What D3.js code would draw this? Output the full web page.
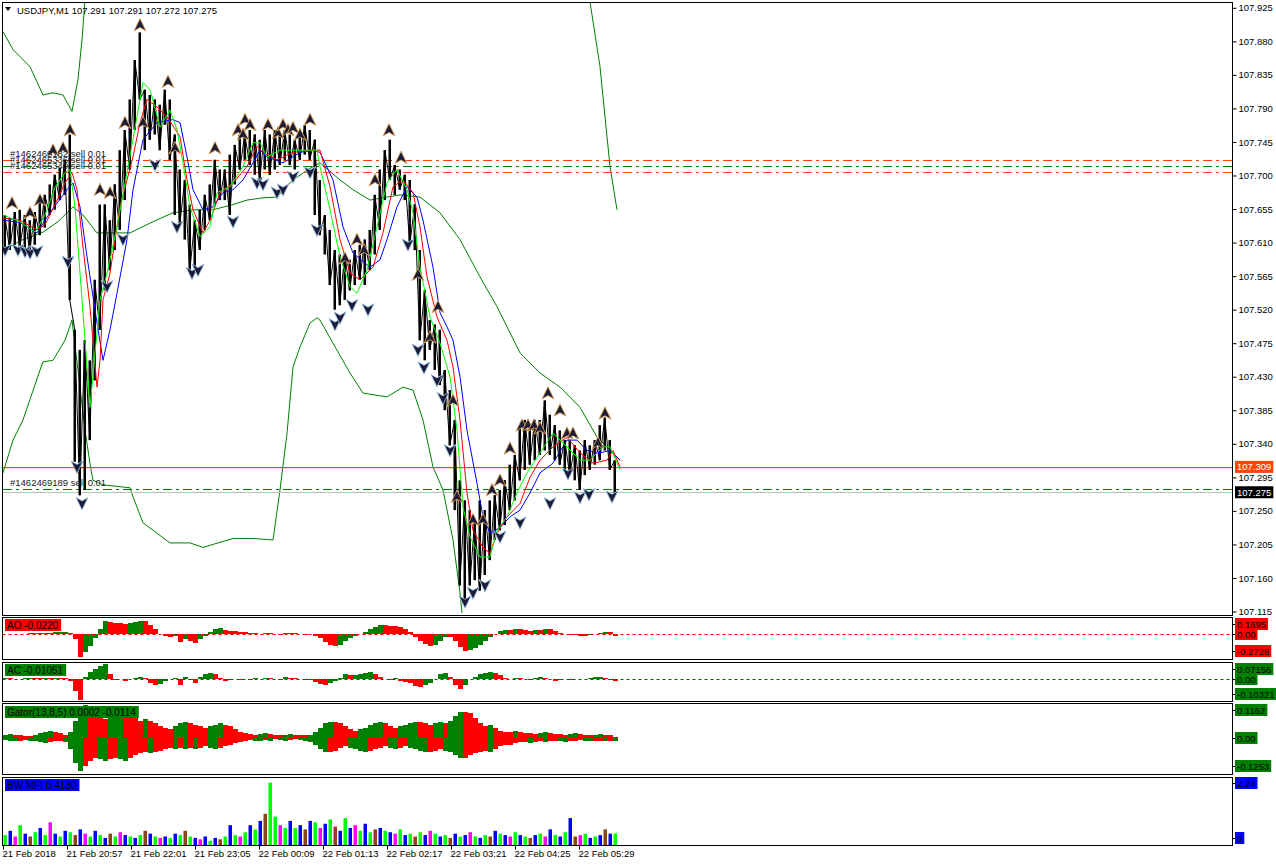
<!DOCTYPE html>
<html><head><meta charset="utf-8">
<script src="https://cdn.jsdelivr.net/npm/d3@7"></script>
<style>
body{margin:0;background:#fff;}
svg{display:block;}
text{font-family:"Liberation Sans",Arial,sans-serif;}
</style>
</head><body>
<svg id="chart" width="1276" height="866"></svg>
<script>
// ---------------- DATA ----------------
const symbolTitle = "USDJPY,M1  107.291 107.291 107.272 107.275";
const bucketMinutes = 5; // each price/indicator bucket spans 5 one-minute bars
const timeTicks = [0, 64, 128, 192, 256, 320, 384, 448, 512, 576];
const timeLabels = ["21 Feb 2018", "21 Feb 20:57", "21 Feb 22:01", "21 Feb 23:05", "22 Feb 00:09",
  "22 Feb 01:13", "22 Feb 02:17", "22 Feb 03:21", "22 Feb 04:25", "22 Feb 05:29"];
const priceTicks = [107.925, 107.880, 107.835, 107.790, 107.745, 107.700, 107.655, 107.610, 107.565,
  107.520, 107.475, 107.430, 107.385, 107.340, 107.295, 107.250, 107.205, 107.160, 107.115];

const priceHigh = [107.647,107.643,107.651,107.654,107.647,107.640,107.651,107.667,107.674,107.688,107.701,107.710,107.721,
 107.755,107.493,107.466,107.479,107.452,107.560,107.661,107.661,107.640,107.688,107.734,107.761,107.802,107.855,107.892,107.815,107.808,107.802,107.795,
 107.815,107.802,107.755,107.708,107.694,107.661,107.640,107.654,107.674,107.688,107.721,107.708,107.708,107.728,107.741,107.755,
 107.755,107.761,107.755,107.748,107.761,107.755,107.761,107.755,107.761,107.755,107.748,107.755,107.768,
 107.761,107.748,107.694,107.647,107.627,107.600,107.594,107.594,107.587,107.600,107.607,107.614,107.627,107.674,107.708,107.734,107.748,107.714,107.708,107.701,107.694,
 107.661,107.600,107.546,107.506,107.500,107.493,107.439,107.412,107.372,107.291,107.264,107.251,107.238,107.264,107.251,107.264,107.271,107.278,107.291,107.312,107.325,107.365,107.372,107.365,107.372,107.372,107.398,107.379,107.365,107.358,107.345,107.345,107.338,107.331,107.345,107.338,107.345,107.365,107.375,107.345,107.318];
const priceLow = [107.603,107.600,107.607,107.603,107.600,107.598,107.607,107.620,107.630,107.647,107.654,107.667,107.674,
 107.533,107.316,107.271,107.278,107.345,107.425,107.493,107.546,107.573,107.600,107.627,107.667,107.708,107.761,107.802,107.734,107.748,107.755,107.734,
 107.768,107.721,107.647,107.634,107.614,107.571,107.576,107.600,107.627,107.640,107.661,107.667,107.667,107.647,107.688,107.708,
 107.721,107.714,107.701,107.694,107.708,107.701,107.708,107.714,107.721,107.714,107.708,107.721,107.728,
 107.721,107.647,107.620,107.594,107.553,107.520,107.526,107.533,107.546,107.553,107.560,107.553,107.573,107.594,107.627,107.667,107.694,107.674,107.681,107.667,107.607,
 107.600,107.479,107.452,107.466,107.439,107.419,107.385,107.338,107.251,107.150,107.130,107.150,107.157,107.143,107.164,107.184,107.211,107.224,107.231,107.251,107.264,107.291,107.305,107.312,107.318,107.325,107.331,107.325,107.318,107.312,107.305,107.298,107.291,107.278,107.298,107.305,107.312,107.318,107.331,107.305,107.274];

// Alligator lines [minute, price]
const jawLine = [[0,107.640],[17,107.637],[34,107.623],[47,107.650],[64,107.681],[70,107.690],[77,107.658],[84,107.591],[94,107.502],[100,107.452],[107,107.493],[114,107.542],[124,107.614],[130,107.681],[140,107.748],[154,107.771],[170,107.775],[177,107.771],[184,107.725],[190,107.681],[200,107.654],[210,107.658],[220,107.677],[230,107.681],[240,107.694],[250,107.717],[257,107.734],[264,107.725],[280,107.717],[297,107.731],[310,107.734],[317,107.731],[330,107.694],[340,107.631],[350,107.596],[367,107.577],[377,107.587],[384,107.614],[394,107.658],[404,107.685],[414,107.671],[420,107.640],[430,107.577],[437,107.516],[444,107.497],[450,107.479],[457,107.430],[464,107.358],[474,107.287],[480,107.242],[487,107.220],[497,107.228],[507,107.242],[517,107.251],[527,107.274],[537,107.301],[550,107.314],[564,107.345],[574,107.345],[584,107.331],[597,107.328],[607,107.331],[617,107.318]];
const teethLine = [[0,107.643],[17,107.640],[34,107.627],[42,107.634],[52,107.661],[62,107.690],[69,107.704],[74,107.681],[80,107.604],[87,107.524],[94,107.416],[97,107.452],[100,107.533],[107,107.569],[117,107.658],[130,107.725],[137,107.771],[144,107.802],[154,107.792],[164,107.779],[177,107.752],[184,107.694],[190,107.654],[200,107.623],[207,107.640],[217,107.677],[230,107.690],[244,107.712],[254,107.739],[260,107.731],[274,107.721],[290,107.731],[310,107.734],[317,107.734],[327,107.685],[337,107.614],[347,107.569],[357,107.560],[370,107.577],[380,107.623],[390,107.685],[400,107.694],[410,107.677],[417,107.631],[424,107.564],[434,107.510],[444,107.479],[450,107.443],[457,107.372],[464,107.274],[470,107.224],[480,107.201],[487,107.193],[494,107.220],[504,107.242],[517,107.260],[527,107.295],[537,107.318],[550,107.336],[564,107.349],[577,107.328],[590,107.314],[604,107.318],[610,107.331],[617,107.309]];
const lipsLine = [[0,107.647],[17,107.638],[32,107.624],[42,107.647],[52,107.684],[62,107.704],[67,107.708],[72,107.658],[77,107.569],[87,107.389],[97,107.533],[104,107.569],[114,107.631],[124,107.704],[134,107.779],[140,107.825],[147,107.815],[157,107.765],[167,107.788],[174,107.761],[180,107.717],[187,107.658],[197,107.618],[207,107.631],[214,107.677],[227,107.685],[240,107.712],[250,107.744],[257,107.744],[264,107.725],[277,107.734],[297,107.734],[314,107.734],[317,107.712],[327,107.654],[337,107.591],[347,107.551],[354,107.542],[364,107.573],[374,107.631],[384,107.690],[394,107.708],[404,107.681],[410,107.650],[417,107.577],[427,107.510],[437,107.475],[447,107.430],[454,107.358],[460,107.255],[467,107.215],[477,107.188],[487,107.188],[494,107.224],[504,107.242],[514,107.274],[524,107.301],[537,107.328],[550,107.354],[564,107.336],[577,107.318],[587,107.318],[600,107.336],[607,107.336],[617,107.305]];

// Envelope / band lines [minute, price]; null splits a segment that runs above the chart
const bandUpper = [[0,107.893],[10,107.869],[27,107.846],[40,107.808],[50,107.811],[60,107.808],[69,107.786],[75,107.829],[79,107.882],[82,107.936],[84,107.963],null,
  [586,107.950],[587,107.933],[597,107.846],[607,107.712],[614,107.654]];
const bandMiddle = [[0,107.600],[20,107.614],[40,107.624],[55,107.638],[70,107.658],[80,107.647],[94,107.623],[127,107.623],[150,107.638],[170,107.650],[190,107.654],[210,107.654],[230,107.661],[244,107.667],[260,107.670],[274,107.671],[290,107.694],[305,107.708],[317,107.717],[337,107.694],[350,107.681],[367,107.667],[384,107.671],[397,107.674],[417,107.671],[437,107.650],[457,107.614],[477,107.564],[494,107.524],[517,107.462],[537,107.435],[557,107.416],[577,107.389],[594,107.349],[604,107.336],[617,107.318]];
const bandLower = [[0,107.301],[10,107.345],[20,107.372],[37,107.439],[40,107.450],[50,107.452],[62,107.479],[69,107.506],[75,107.439],[82,107.358],[88,107.305],[90,107.291],[100,107.285],[120,107.282],[127,107.281],[130,107.269],[140,107.234],[150,107.224],[167,107.207],[187,107.207],[200,107.201],[230,107.213],[250,107.213],[270,107.211],[277,107.278],[284,107.354],[290,107.443],[297,107.470],[307,107.502],[314,107.509],[317,107.506],[330,107.475],[347,107.435],[360,107.408],[384,107.403],[400,107.416],[410,107.412],[420,107.372],[430,107.309],[440,107.278],[450,107.211],[457,107.140],[459,107.113]];

// Fractals [minute, price of arrow]
const fractalUp = [[9,107.663],[27,107.650],[37,107.667],[50,107.734],[60,107.737],[67,107.761],[97,107.681],[107,107.677],[122,107.771],[137,107.902],[140,107.771],[165,107.826],[172,107.737],[212,107.737],[235,107.761],[240,107.755],[242,107.775],[247,107.768],[265,107.768],[275,107.757],[280,107.768],[285,107.761],[290,107.764],[297,107.755],[307,107.775],[342,107.589],[354,107.614],[361,107.600],[372,107.694],[386,107.761],[398,107.724],[415,107.567],[427,107.483],[435,107.524],[450,107.398],[454,107.269],[470,107.238],[480,107.238],[489,107.278],[497,107.291],[507,107.334],[519,107.365],[525,107.365],[531,107.365],[537,107.361],[545,107.408],[557,107.385],[564,107.354],[570,107.354],[595,107.341],[602,107.381]];
const fractalDown = [[2,107.600],[15,107.600],[22,107.598],[27,107.596],[34,107.598],[65,107.584],[74,107.309],[79,107.260],[104,107.551],[120,107.614],[152,107.714],[174,107.631],[189,107.569],[195,107.573],[230,107.638],[254,107.690],[260,107.688],[274,107.677],[280,107.681],[290,107.698],[307,107.704],[314,107.627],[332,107.500],[337,107.509],[349,107.526],[365,107.520],[405,107.607],[415,107.466],[421,107.442],[434,107.425],[440,107.401],[447,107.331],[462,107.128],[470,107.140],[482,107.150],[497,107.215],[517,107.234],[547,107.260],[565,107.300],[577,107.268],[586,107.272],[609,107.269]];

// Horizontal price lines
const orderLevelsOrange = [107.721, 107.705];
const orderLevelsGreen = [107.713, 107.280];
const askPrice = 107.309;
const bidPrice = 107.275;
const orderTexts = [["#1462469182 sell 0.01",107.726],["#1462465336 sell 0.01",107.718],["#1462465340 sell 0.01",107.710],["#1462469189 sell 0.01",107.285]];

// Indicators (one value per 5-minute bucket)
const aoValues = [0.002,0.003,0.001,-0.002,0.001,0.004,0.006,0.008,0.010,0.012,0.015,0.018,0.020,
 0.010,-0.060,-0.260,-0.200,-0.130,-0.050,0.050,0.140,0.130,0.120,0.120,0.110,0.120,0.130,0.140,0.140,0.100,0.050,0.000,
 -0.020,-0.030,-0.020,-0.090,-0.060,-0.080,-0.100,-0.060,-0.020,0.020,0.050,0.060,0.040,0.030,0.030,0.020,
 0.020,0.010,0.010,0.000,0.010,0.010,0.000,-0.010,0.010,0.010,0.010,0.000,-0.010,
 -0.005,-0.020,-0.050,-0.090,-0.120,-0.130,-0.120,-0.080,-0.050,-0.020,0.000,0.020,0.050,0.080,0.100,0.100,0.090,0.090,0.070,0.050,0.020,
 -0.030,-0.080,-0.110,-0.130,-0.120,-0.080,-0.040,-0.040,-0.080,-0.150,-0.190,-0.180,-0.160,-0.120,-0.080,-0.040,0.000,0.030,0.040,0.040,0.050,0.050,0.040,0.030,0.040,0.040,0.050,0.050,0.030,0.010,0.000,-0.010,-0.010,-0.020,-0.020,-0.010,0.000,0.010,0.020,0.020,-0.022];
const aoRange = [-0.2728, 0.1695];
const acValues = [0.002,0.001,-0.002,-0.003,0.002,0.004,0.003,0.002,0.003,0.003,0.004,0.003,0.002,
 -0.010,-0.060,-0.100,0.010,0.030,0.045,0.060,0.070,0.020,-0.005,0.000,-0.010,0.000,0.005,0.010,0.005,-0.020,-0.030,-0.025,
 -0.010,0.000,0.005,-0.030,0.010,-0.005,-0.020,0.010,0.020,0.025,0.020,0.005,-0.010,-0.005,0.000,-0.005,
 0.000,-0.005,0.002,-0.004,0.005,0.003,-0.004,-0.006,0.006,0.003,0.002,-0.004,-0.008,
 -0.005,-0.015,-0.025,-0.030,-0.020,-0.010,0.005,0.020,0.015,0.018,0.020,0.025,0.030,0.020,0.010,0.000,-0.005,0.005,-0.010,-0.015,-0.020,
 -0.035,-0.040,-0.030,-0.020,0.000,0.020,0.025,0.010,-0.030,-0.050,-0.030,0.000,0.010,0.020,0.025,0.030,0.025,0.015,0.005,0.000,0.005,0.003,0.000,-0.005,0.004,0.006,0.005,-0.003,-0.010,-0.008,-0.004,-0.005,0.000,-0.004,-0.002,0.003,0.006,0.008,0.004,-0.005,-0.011];
const acRange = [-0.10321, 0.07156];
const gatorUpper = [0.01,0.012,0.01,0.008,0.006,0.006,0.01,0.015,0.02,0.025,0.02,0.015,0.01,
 0.02,0.06,0.10,0.115,0.11,0.08,0.07,0.065,0.075,0.085,0.09,0.085,0.08,0.07,0.06,0.065,0.06,0.05,0.04,
 0.035,0.03,0.04,0.05,0.055,0.05,0.045,0.04,0.035,0.04,0.045,0.05,0.045,0.04,0.03,0.02,
 0.015,0.012,0.01,0.012,0.015,0.012,0.01,0.008,0.01,0.012,0.01,0.008,0.008,
 0.01,0.02,0.035,0.05,0.055,0.055,0.05,0.04,0.03,0.025,0.03,0.035,0.045,0.05,0.055,0.05,0.04,0.035,0.04,0.045,0.05,
 0.055,0.055,0.05,0.045,0.05,0.055,0.05,0.06,0.075,0.09,0.09,0.085,0.07,0.05,0.04,0.045,0.035,0.025,0.02,0.02,0.025,0.02,0.015,0.015,0.012,0.015,0.02,0.015,0.012,0.012,0.01,0.012,0.015,0.012,0.01,0.008,0.01,0.012,0.01,0.008,0.002];
const gatorLower = [-0.008,-0.01,-0.012,-0.01,-0.008,-0.01,-0.012,-0.015,-0.02,-0.015,-0.012,-0.01,-0.015,
 -0.04,-0.09,-0.115,-0.10,-0.08,-0.07,-0.075,-0.08,-0.075,-0.07,-0.075,-0.08,-0.07,-0.06,-0.055,-0.05,-0.055,-0.05,-0.045,
 -0.04,-0.035,-0.04,-0.035,-0.04,-0.035,-0.04,-0.035,-0.03,-0.035,-0.04,-0.035,-0.03,-0.025,-0.02,-0.015,
 -0.01,-0.008,-0.01,-0.012,-0.008,-0.01,-0.006,-0.008,-0.01,-0.008,-0.006,-0.008,-0.01,
 -0.015,-0.025,-0.04,-0.05,-0.05,-0.045,-0.035,-0.03,-0.035,-0.04,-0.045,-0.05,-0.045,-0.04,-0.035,-0.03,-0.035,-0.04,-0.035,-0.03,-0.035,
 -0.04,-0.045,-0.05,-0.05,-0.045,-0.04,-0.045,-0.05,-0.06,-0.07,-0.07,-0.06,-0.055,-0.05,-0.045,-0.05,-0.04,-0.03,-0.025,-0.025,-0.02,-0.015,-0.015,-0.02,-0.015,-0.012,-0.015,-0.012,-0.01,-0.012,-0.015,-0.012,-0.01,-0.008,-0.01,-0.012,-0.01,-0.01,-0.012,-0.011,-0.0114];
const gatorRange = [-0.1253, 0.1162];
const mfiValues = [0.35,0.5,0.3,0.7,0.4,0.3,0.45,0.6,0.35,0.8,0.4,0.3,0.5,
 0.45,0.35,0.55,0.4,0.3,0.5,0.35,0.25,0.4,0.3,0.45,0.35,0.3,0.25,0.35,0.5,0.4,0.3,0.25,
 0.3,0.25,0.4,0.35,0.5,0.3,0.25,0.2,0.3,0.15,0.25,0.2,0.3,0.7,0.35,0.3,
 0.45,0.7,0.55,0.85,1.1,2.2,1.0,0.7,0.6,0.85,0.6,0.7,0.55,
 0.85,0.8,0.6,0.75,0.9,0.65,0.5,0.95,0.6,0.7,0.5,0.75,0.45,0.55,0.6,0.5,0.45,0.4,0.55,0.35,0.4,
 0.3,0.45,0.35,0.5,0.4,0.3,0.35,0.25,0.4,0.3,0.35,0.45,0.3,0.25,0.35,0.3,0.5,0.4,0.35,0.3,0.45,0.35,0.3,0.25,0.35,0.4,0.3,0.55,0.35,0.3,0.45,0.95,0.3,0.35,0.4,0.25,0.3,0.35,0.55,0.4,0.41];
// bar kind per bucket: g = green (MFI up, volume up), b = fake (blue), m = squat (pink), n = fade (brown)
const mfiKinds = ["g","b","m","g","b","n","g","b","g","m", "b","g","b","g","n","b","m","g","b","g",
 "b","n","g","m","b","g","b","g","n","b", "g","m","b","g","b","g","n","g","b","m",
 "b","g","b","n","g","b","g","m","g","b", "g","b","n","g","g","m","g","b","g","b",
 "n","b","g","m","b","g","n","b","g","b", "m","g","b","g","n","b","g","b","m","g",
 "b","g","n","g","b","m","g","b","g","n", "b","g","b","m","g","b","g","n","b","g",
 "b","m","g","b","g","n","b","g","m","b", "g","b","g","b","n","m","g","b","g","b",
 "n","b","g"];
const mfiMax = 2.24;

// ---------------- DRAW ----------------
const svg = d3.select("#chart");
const plotLeft = 2.5, plotRight = 1232.5;
const panels = {
  main: {top: 2.5, bottom: 615.5},
  ao: {top: 617.5, bottom: 659.5},
  ac: {top: 662.5, bottom: 701.5},
  gator: {top: 703.5, bottom: 774.5},
  mfi: {top: 777.5, bottom: 845.5}
};
const x = d3.scaleLinear().domain([0, 1229]).range([3, 1232]);
const yMain = d3.scaleLinear().domain([107.115, 107.925]).range([611.5, 7.8]);
const bt = i => i * bucketMinutes;
const crisp = v => Math.round(v) + 0.5;

const defs = svg.append("defs");
Object.entries(panels).forEach(([k, p]) => {
  defs.append("clipPath").attr("id", "clip-" + k).append("rect")
    .attr("x", plotLeft + 0.5).attr("y", p.top + 0.5)
    .attr("width", plotRight - plotLeft - 1).attr("height", p.bottom - p.top - 1);
});

const font = "Liberation Sans, Arial, sans-serif";

// ---- main panel ----
const gMain = svg.append("g").attr("clip-path", "url(#clip-main)");

const lineGen = d3.line().defined(d => d !== null).x(d => x(d[0])).y(d => yMain(d[1]));
[bandUpper, bandMiddle, bandLower].forEach(b => {
  gMain.append("path").attr("d", lineGen(b)).attr("fill", "none").attr("stroke", "#008000").attr("stroke-width", 1);
});

function hline(v, color, dash) {
  const l = gMain.append("line").attr("x1", plotLeft).attr("x2", plotRight)
    .attr("y1", crisp(yMain(v))).attr("y2", crisp(yMain(v)))
    .attr("stroke", color).attr("stroke-width", 1).attr("shape-rendering", "crispEdges");
  if (dash) l.attr("stroke-dasharray", dash);
}
const dashDot = "9,4,3,4";
orderLevelsOrange.forEach(v => hline(v, "#ff4500", dashDot));
orderLevelsGreen.forEach(v => hline(v, "#008000", dashDot));
hline(bidPrice, "#c0c0c0");
// ask line as a solid 1px orange band
gMain.append("rect").attr("x", plotLeft).attr("width", plotRight - plotLeft)
  .attr("y", Math.round(yMain(askPrice))).attr("height", 1.2).attr("fill", "#ff4500");

// price bars
gMain.append("g").selectAll("rect").data(priceHigh).join("rect")
  .attr("x", (d, i) => x(bt(i)) + 0.5)
  .attr("width", 2.5)
  .attr("y", d => yMain(d))
  .attr("height", (d, i) => Math.max(1, yMain(priceLow[i]) - yMain(d)))
  .attr("fill", "#000");
gMain.append("path")
  .attr("d", d3.line().x((d, i) => x(bt(i)) + 1.75).y((d, i) => yMain(i % 2 ? priceLow[i] : d))(priceHigh))
  .attr("fill", "none").attr("stroke", "#000").attr("stroke-width", 1);

// alligator
[[jawLine, "#0000ff"], [teethLine, "#ff0000"], [lipsLine, "#00ff00"]].forEach(([d, c]) => {
  gMain.append("path").attr("d", lineGen(d)).attr("fill", "none").attr("stroke", c).attr("stroke-width", 1);
});

// fractals
const upPath = "M0,-6.5 L6,6 L0,2.5 L-6,6 Z";
const downPath = "M0,6.5 L6,-6 L0,-2.5 L-6,-6 Z";
gMain.append("g").selectAll("path").data(fractalUp).join("path")
  .attr("transform", d => `translate(${x(d[0])},${yMain(d[1])})`)
  .attr("d", upPath).attr("fill", "#1c1c38").attr("stroke", "#e0a860").attr("stroke-width", 0.9);
gMain.append("g").selectAll("path").data(fractalDown).join("path")
  .attr("transform", d => `translate(${x(d[0])},${yMain(d[1])})`)
  .attr("d", downPath).attr("fill", "#1c1c38").attr("stroke", "#9cc4e4").attr("stroke-width", 0.9);

// order texts (stacked closely, as in the terminal)
gMain.append("g").selectAll("text").data(orderTexts).join("text")
  .attr("x", 10).attr("y", d => yMain(d[1]) + 1)
  .attr("font-size", 9.5).attr("fill", "#202020").text(d => d[0]);

// header
svg.append("path").attr("d", "M5,7 L11,7 L8,11 Z").attr("fill", "#000");
svg.append("text").attr("x", 17).attr("y", 14).attr("font-size", 9.5).attr("fill", "#000").text(symbolTitle);

// price axis
const axisR = d3.axisRight(yMain).tickValues(priceTicks).tickSize(4).tickFormat(d3.format(".3f"));
const gAx = svg.append("g").attr("transform", `translate(${plotRight},0)`).call(axisR);
gAx.select(".domain").remove();
gAx.selectAll("text").attr("font-family", font).attr("font-size", 9.5).attr("fill", "#000").attr("x", 6);
gAx.selectAll("line").attr("stroke", "#000");

function tag(yc, txt, bg, fg) {
  const g = svg.append("g");
  const t = g.append("text").attr("x", 1237).attr("y", yc + 3.5).attr("font-size", 9.5)
    .attr("font-family", font).attr("fill", fg).text(txt);
  const w = t.node().getComputedTextLength();
  g.insert("rect", "text").attr("x", 1235).attr("y", yc - 6).attr("width", w + 4).attr("height", 12).attr("fill", bg);
}
tag(yMain(askPrice), "107.309", "#ff4500", "#fff");
tag(yMain(bidPrice), "107.275", "#000", "#fff");

// ---- histogram panels ----
function panelScale(p, range) {
  return d3.scaleLinear().domain(range).range([p.bottom - 1, p.top + 1]);
}
function colorUpDown(vals, useAbs) {
  return vals.map((v, i) => {
    if (i === 0) return "#008000";
    const a = useAbs ? Math.abs(v) : v, b = useAbs ? Math.abs(vals[i - 1]) : vals[i - 1];
    return a > b ? "#008000" : "#ff0000";
  });
}
function histogram(key, vals, range, colors) {
  const p = panels[key];
  const y = panelScale(p, range);
  const g = svg.append("g").attr("clip-path", `url(#clip-${key})`);
  g.selectAll("rect").data(vals).join("rect")
    .attr("x", (d, i) => x(bt(i)))
    .attr("width", 5)
    .attr("y", d => Math.min(y(0), y(d)))
    .attr("height", d => Math.max(0.6, Math.abs(y(d) - y(0))))
    .attr("fill", (d, i) => colors[i])
    .attr("shape-rendering", "crispEdges");
  return {g, y};
}
const ao = histogram("ao", aoValues, aoRange, colorUpDown(aoValues, false));
ao.g.append("line").attr("x1", plotLeft).attr("x2", plotRight).attr("y1", crisp(ao.y(0))).attr("y2", crisp(ao.y(0)))
  .attr("stroke", "#ff0000").attr("stroke-dasharray", "3,3");
const ac = histogram("ac", acValues, acRange, colorUpDown(acValues, false));
ac.g.append("line").attr("x1", plotLeft).attr("x2", plotRight).attr("y1", crisp(ac.y(0))).attr("y2", crisp(ac.y(0)))
  .attr("stroke", "#006400").attr("stroke-dasharray", "3,3");
histogram("gator", gatorUpper, gatorRange, colorUpDown(gatorUpper, true));
histogram("gator", gatorLower, gatorRange, colorUpDown(gatorLower, true));

// MFI
const mfiColor = {g: "#00ff00", b: "#0000ff", m: "#ff00ff", n: "#8b4513"};
const yMfi = d3.scaleLinear().domain([0, mfiMax]).range([panels.mfi.bottom - 0.5, panels.mfi.top + 4]);
svg.append("g").attr("clip-path", "url(#clip-mfi)").selectAll("rect").data(mfiValues).join("rect")
  .attr("x", (d, i) => x(bt(i)) + 0.5).attr("width", 3.5)
  .attr("y", d => yMfi(d)).attr("height", d => yMfi(0) - yMfi(d))
  .attr("fill", (d, i) => mfiColor[mfiKinds[i]] || "#00ff00");

// panel frames
Object.values(panels).forEach(p => {
  svg.append("rect").attr("x", plotLeft).attr("y", p.top).attr("width", plotRight - plotLeft)
    .attr("height", p.bottom - p.top).attr("fill", "none").attr("stroke", "#000");
});

function labelBox(xp, yc, txt, bg, fg) {
  const g = svg.append("g");
  const t = g.append("text").attr("x", xp + 2).attr("y", yc + 3.5).attr("font-size", 10)
    .attr("font-family", font).attr("fill", fg).text(txt);
  const w = t.node().getComputedTextLength();
  g.insert("rect", "text").attr("x", xp).attr("y", yc - 6).attr("width", w + 5).attr("height", 12).attr("fill", bg);
}
labelBox(5, 625, "AO -0.0220", "#ff0000", "#000");
labelBox(5, 670, "AC -0.01051", "#008000", "#000");
labelBox(5, 712, "Gator(13,8,5) 0.0002 -0.0114", "#008000", "#000");
labelBox(5, 785, "BW MFI 0.4130", "#0000ff", "#000");

function sideLabel(yc, txt, bg) {
  const g = svg.append("g");
  const t = g.append("text").attr("x", 1237).attr("y", yc + 3.5).attr("font-size", 9.5)
    .attr("font-family", font).attr("fill", "#000").text(txt);
  const w = t.node().getComputedTextLength();
  g.insert("rect", "text").attr("x", 1235).attr("y", yc - 6).attr("width", w + 4).attr("height", 12).attr("fill", bg);
  svg.append("line").attr("x1", 1232).attr("x2", 1235).attr("y1", crisp(yc)).attr("y2", crisp(yc)).attr("stroke", "#000");
}
sideLabel(624, "0.1695", "#ff0000");
sideLabel(634, "0.00", "#ff0000");
sideLabel(651, "-0.2728", "#ff0000");
sideLabel(669, "0.07156", "#008000");
sideLabel(679, "0.00", "#008000");
sideLabel(694, "-0.10321", "#008000");
sideLabel(710, "0.1162", "#008000");
sideLabel(738, "0.00", "#008000");
sideLabel(766, "-0.1253", "#008000");
sideLabel(783, "2.24", "#0000ff");
sideLabel(838, "0", "#0000ff");

// time axis
const axisB = d3.axisBottom(x).tickValues(timeTicks).tickSize(4).tickFormat((d, i) => timeLabels[i]);
const gB = svg.append("g").attr("transform", `translate(0,${panels.mfi.bottom})`).call(axisB);
gB.select(".domain").remove();
gB.selectAll("text").attr("font-family", font).attr("font-size", 9.5).attr("fill", "#000")
  .attr("text-anchor", "start").attr("dx", -1).attr("y", 5);
gB.selectAll("line").attr("stroke", "#000");
</script>
</body></html>
